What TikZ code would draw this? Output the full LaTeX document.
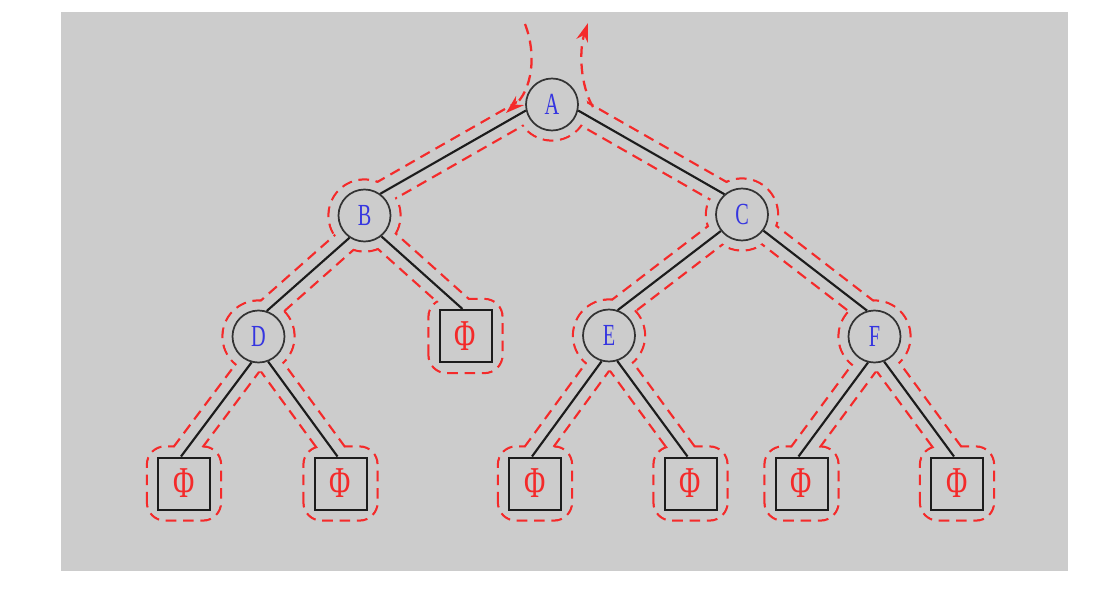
\documentclass[tikz,border=0pt]{standalone}
\usepackage{fontspec}
\usepackage{graphicx}
\usetikzlibrary{calc,arrows.meta}
\newfontfamily\lserif{Liberation Serif}
\definecolor{bgc}{HTML}{CCCCCC}
\definecolor{tourred}{HTML}{F42A2A}
\definecolor{letterblue}{HTML}{3535E0}
\definecolor{edgeblack}{HTML}{1C1C1C}
\pgfdeclarelayer{back}\pgfdeclarelayer{tour}\pgfdeclarelayer{cover}
\pgfsetlayers{back,tour,cover,main}
\tikzset{
 inner/.style={circle, minimum size=39pt, inner sep=0pt, draw=edgeblack!90, line width=1.3pt, fill=bgc, text=letterblue, font=\lserif\fontsize{23}{24}\selectfont},
 leaf/.style={rectangle, minimum size=39pt, inner sep=0pt, draw=edgeblack, line width=1.5pt, text=tourred, font=\lserif\fontsize{33}{36}\selectfont},
 treeedge/.style={draw=edgeblack, line width=1.6pt},
 tourstrip/.style={draw=tourred, line width=19.15pt, dash pattern=on 8pt off 5pt},
 coverstrip/.style={draw=bgc, line width=15.75pt},
 ring/.style={draw=tourred, line width=1.7pt, dash pattern=on 8pt off 5pt},
 tourarrow/.style={draw=tourred, line width=1.7pt, dash pattern=on 8pt off 5pt, -{Stealth[length=14pt,width=9pt]}},
}
\newcommand{\cn}[1]{\scalebox{0.66}[1]{#1}}
\newcommand{\edgelist}{A/193/B.54, A/347/C.131, B/236/D.72, B/309/Pt, C/218/E.71, C/323/F.106, D/255/L1t, D/291/L2t, E/254/L3t, E/288/L4t, F/256/L5t, F/291/L6t}
\begin{document}
\begin{tikzpicture}[x=0.75pt,y=0.75pt]
\useasboundingbox (0,0) rectangle (1095,590);
% nodes
\node[inner] (A) at (552,485.5) {\cn{A}};
\node[inner] (B) at (364.5,374.5) {\cn{B}};
\node[inner] (C) at (742,375.5) {\cn{C}};
\node[inner] (D) at (258.5,253.5) {\cn{D}};
\node[inner] (E) at (609,254.5) {\cn{E}};
\node[inner] (F) at (874.5,253.5) {\cn{F}};
\node[leaf] (P) at (465.5,254) {\cn{Φ}};
\node[leaf] (L1) at (184,106.5) {\cn{Φ}};
\node[leaf] (L2) at (340.5,106.5) {\cn{Φ}};
\node[leaf] (L3) at (535,106.5) {\cn{Φ}};
\node[leaf] (L4) at (690.5,106.5) {\cn{Φ}};
\node[leaf] (L5) at (801.5,106.5) {\cn{Φ}};
\node[leaf] (L6) at (957,106.5) {\cn{Φ}};
\foreach \n in {P,L1,L2,L3,L4,L5,L6} {\coordinate (\n t) at ([xshift=-2.25pt]\n.north);}
% tree edges
\foreach \p/\a/\c in \edgelist {\draw[treeedge] (\p.\a) -- (\c);}
% arrows of the tour
\coordinate (inS) at (525,566);
\coordinate (inE) at (506,477);
\coordinate (outS) at (593,483);
\coordinate (outE) at (588,567);
\draw[tourarrow] (inS) .. controls (537,535) and (532,500) .. (inE);
\draw[tourarrow] (outS) .. controls (580,505) and (579,540) .. (outE);
\begin{pgfonlayer}{back}
\fill[bgc] (61,19) rectangle (1068,578);
\end{pgfonlayer}
\begin{pgfonlayer}{tour}
\foreach \p/\a/\c in \edgelist {\draw[tourstrip] (\p.\a) -- (\c);}
\foreach \n in {B,C,D,E,F} {\draw[ring] (\n) circle (36);}
\draw[ring] ($(A)+(200:36)$) arc[start angle=200, end angle=340, radius=36];
\foreach \n in {P,L1,L2,L3,L4,L5,L6} {\draw[ring, rounded corners=13.5pt] ($(\n)+(-37,-37)$) rectangle ($(\n)+(37,37)$);}
\end{pgfonlayer}
\begin{pgfonlayer}{cover}
\foreach \p/\a/\c in \edgelist {\draw[coverstrip] (\p.\a) -- (\c);}
\foreach \n in {A,B,C,D,E,F} {\fill[bgc] (\n) circle (34.9);}
\foreach \n in {P,L1,L2,L3,L4,L5,L6} {\fill[bgc, rounded corners=12.8pt] ($(\n)+(-35.9,-35.9)$) rectangle ($(\n)+(35.9,35.9)$);}
\end{pgfonlayer}
\end{tikzpicture}
\end{document}
